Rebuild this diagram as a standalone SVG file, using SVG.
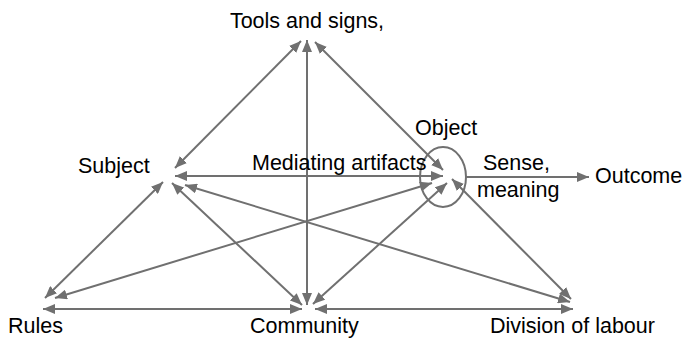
<svg xmlns="http://www.w3.org/2000/svg" width="683" height="340" viewBox="0 0 683 340">
<defs>
<style>
.c{stroke:#707070;stroke-width:2;fill:none}
.a{marker-start:url(#h);marker-end:url(#h)}
.e{marker-end:url(#h)}
text{font-family:"Liberation Sans",Arial,sans-serif;font-size:21.5px;fill:#000}
</style>
<marker id="h" viewBox="0 0 12 10" refX="12" refY="5" markerWidth="12" markerHeight="10" markerUnits="userSpaceOnUse" orient="auto-start-reverse">
<path d="M0,0 L12,5 L0,10 Z" fill="#707070"/>
</marker>
</defs>
<rect width="683" height="340" fill="#fff"/>
<g id="connectors">
<line class="c a" x1="301" y1="41" x2="175" y2="168"/>
<line class="c a" x1="307" y1="40" x2="307" y2="305"/>
<line class="c a" x1="315" y1="42" x2="443" y2="170"/>
<line class="c a" x1="175" y1="176" x2="443" y2="176"/>
<line class="c a" x1="163" y1="182" x2="45" y2="298"/>
<line class="c a" x1="172" y1="183" x2="302" y2="305"/>
<line class="c a" x1="185" y1="185" x2="570" y2="302"/>
<line class="c a" x1="55" y1="298" x2="432" y2="183"/>
<line class="c a" x1="43" y1="309" x2="302" y2="309"/>
<line class="c a" x1="315" y1="309" x2="573" y2="309"/>
<line class="c a" x1="313" y1="304" x2="447" y2="183"/>
<line class="c a" x1="452" y1="179" x2="571" y2="299"/>
<line class="c e" x1="466" y1="177" x2="589" y2="177"/>
</g>
<g id="object">
<ellipse class="c" cx="443" cy="177" rx="23" ry="30"/>
<text x="415" y="135">Object</text>
</g>
<g id="tools"><text x="307" y="28" text-anchor="middle">Tools and signs,</text></g>
<g id="mediating"><text x="252" y="170">Mediating artifacts</text></g>
<g id="subject"><text x="78" y="173">Subject</text></g>
<g id="sense"><text x="483" y="170">Sense,</text><text x="477" y="197">meaning</text></g>
<g id="outcome"><text x="595" y="183">Outcome</text></g>
<g id="rules"><text x="8" y="333">Rules</text></g>
<g id="community"><text x="250" y="333">Community</text></g>
<g id="division"><text x="490" y="333">Division of labour</text></g>
</svg>
